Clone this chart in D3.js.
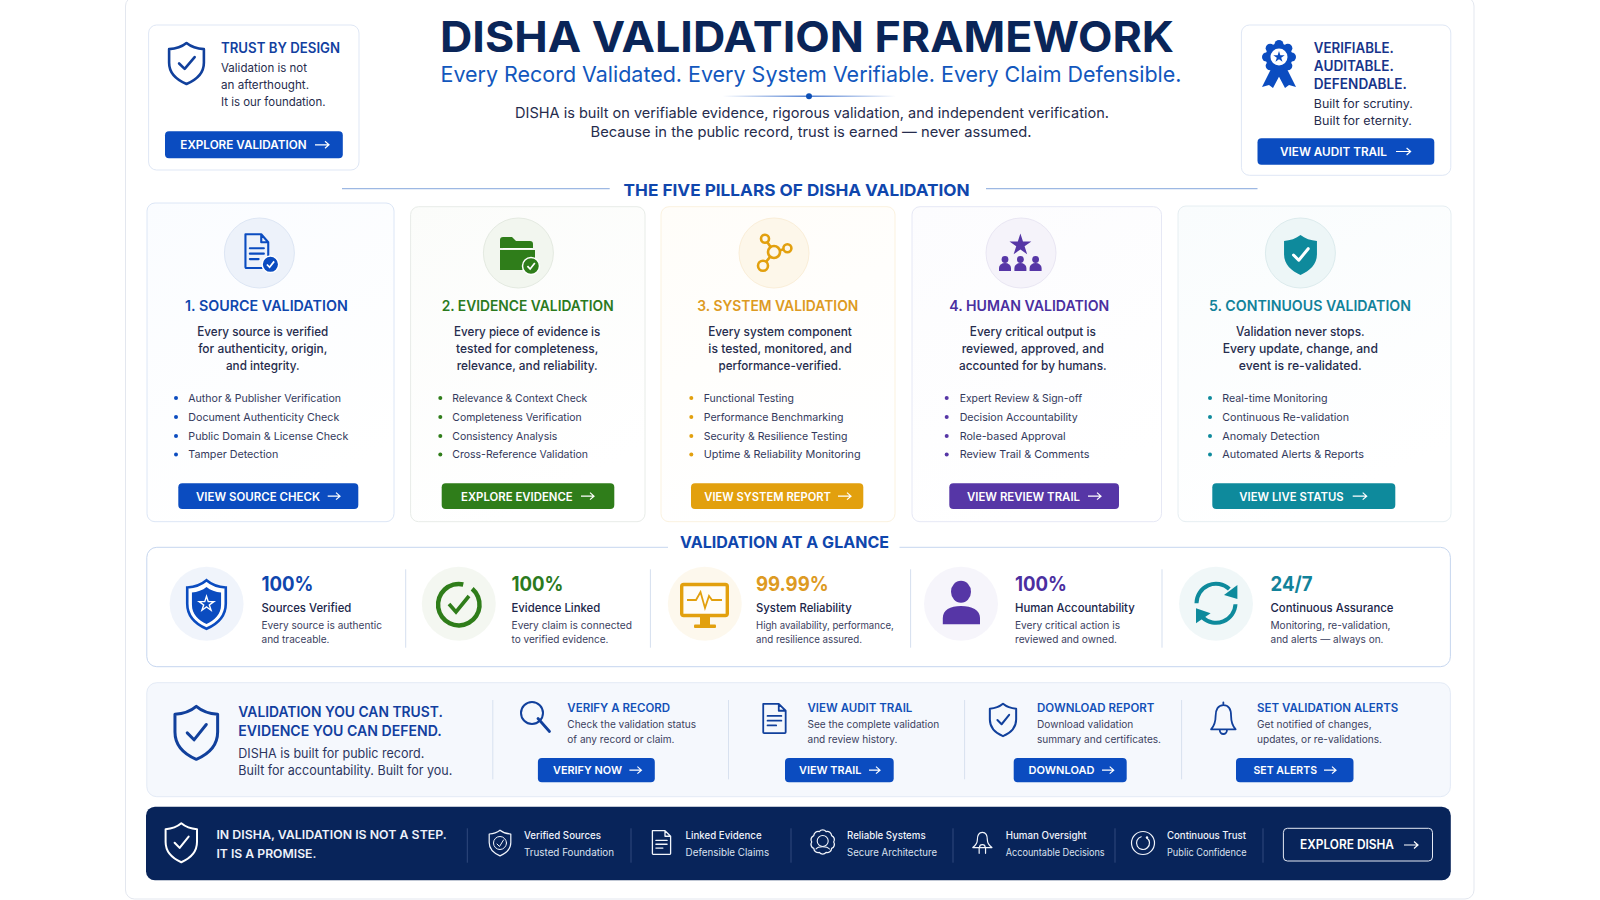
<!DOCTYPE html>
<html>
<head>
<meta charset="utf-8">
<script src="https://cdn.jsdelivr.net/npm/d3@7"></script>
<style>
  body { margin: 0; background: #fff; }
  svg { display: block; }
  text { font-family: Inter, "Noto Sans", sans-serif; }
</style>
</head>
<body>
<div id="chart"></div>
<script>
// text content
const pageTitle = "DISHA VALIDATION FRAMEWORK";
const pageSubtitle = "Every Record Validated. Every System Verifiable. Every Claim Defensible.";
const pageIntro = ["DISHA is built on verifiable evidence, rigorous validation, and independent verification.",
                   "Because in the public record, trust is earned — never assumed."];
const leftHead = "TRUST BY DESIGN";
const leftLines = ["Validation is not", "an afterthought.", "It is our foundation."];
const leftButton = "EXPLORE VALIDATION";
const rightHead = ["VERIFIABLE.", "AUDITABLE.", "DEFENDABLE."];
const rightLines = ["Built for scrutiny.", "Built for eternity."];
const rightButton = "VIEW AUDIT TRAIL";
const pillarsHeading = "THE FIVE PILLARS OF DISHA VALIDATION";
const glanceHeading = "VALIDATION AT A GLANCE";

const pillarTitles = ["1. SOURCE VALIDATION", "2. EVIDENCE VALIDATION", "3. SYSTEM VALIDATION", "4. HUMAN VALIDATION", "5. CONTINUOUS VALIDATION"];
const pillarIntro = [
  ["Every source is verified", "for authenticity, origin,", "and integrity."],
  ["Every piece of evidence is", "tested for completeness,", "relevance, and reliability."],
  ["Every system component", "is tested, monitored, and", "performance-verified."],
  ["Every critical output is", "reviewed, approved, and", "accounted for by humans."],
  ["Validation never stops.", "Every update, change, and", "event is re-validated."]
];
const pillarChecks = [
  ["Author & Publisher Verification", "Document Authenticity Check", "Public Domain & License Check", "Tamper Detection"],
  ["Relevance & Context Check", "Completeness Verification", "Consistency Analysis", "Cross-Reference Validation"],
  ["Functional Testing", "Performance Benchmarking", "Security & Resilience Testing", "Uptime & Reliability Monitoring"],
  ["Expert Review & Sign-off", "Decision Accountability", "Role-based Approval", "Review Trail & Comments"],
  ["Real-time Monitoring", "Continuous Re-validation", "Anomaly Detection", "Automated Alerts & Reports"]
];
const pillarButtons = ["VIEW SOURCE CHECK", "EXPLORE EVIDENCE", "VIEW SYSTEM REPORT", "VIEW REVIEW TRAIL", "VIEW LIVE STATUS"];

const glanceValues = ["100%", "100%", "99.99%", "100%", "24/7"];
const glanceLabels = ["Sources Verified", "Evidence Linked", "System Reliability", "Human Accountability", "Continuous Assurance"];
const glanceNotes = [
  ["Every source is authentic", "and traceable."],
  ["Every claim is connected", "to verified evidence."],
  ["High availability, performance,", "and resilience assured."],
  ["Every critical action is", "reviewed and owned."],
  ["Monitoring, re-validation,", "and alerts — always on."]
];

const trustHead = ["VALIDATION YOU CAN TRUST.", "EVIDENCE YOU CAN DEFEND."];
const trustLines = ["DISHA is built for public record.", "Built for accountability. Built for you."];
const actionTitles = ["VERIFY A RECORD", "VIEW AUDIT TRAIL", "DOWNLOAD REPORT", "SET VALIDATION ALERTS"];
const actionNotes = [
  ["Check the validation status", "of any record or claim."],
  ["See the complete validation", "and review history."],
  ["Download validation", "summary and certificates."],
  ["Get notified of changes,", "updates, or re-validations."]
];
const actionButtons = ["VERIFY NOW", "VIEW TRAIL", "DOWNLOAD", "SET ALERTS"];

const footerHead = ["IN DISHA, VALIDATION IS NOT A STEP.", "IT IS A PROMISE."];
const footerFirst = ["Verified Sources", "Linked Evidence", "Reliable Systems", "Human Oversight", "Continuous Trust"];
const footerSecond = ["Trusted Foundation", "Defensible Claims", "Secure Architecture", "Accountable Decisions", "Public Confidence"];
const footerButton = "EXPLORE DISHA";

// colours
const BLUE = "#0b4cc0", NAVY = "#0a2558", INK = "#262c4d", HEAD = "#123f9f";
const pillarColors = ["#0b4cc0", "#2f7d1a", "#e2a00e", "#5636a6", "#0e8a9c"];
const pillarHeads = ["#0f46ad", "#2b7a1e", "#dd9a22", "#4b2fa0", "#12829a"];
const pillarTints = ["#fafcff", "#fbfcfa", "#fffdf9", "#fcfcfe", "#f9fcfd"];
const pillarBorders = ["#dce6f6", "#e8ece8", "#fbf2df", "#e6e8f5", "#e6eef2"];
const circleFills = ["#edf2fa", "#f2f6ef", "#fdf7ea", "#f5f3fa", "#edf6f7"];
const circleEdges = ["#dde6f4", "#e4eae1", "#faeed8", "#e9e6f3", "#dcebed"];

// layout
const cardLeft = [147, 410.6, 661, 912, 1178];
const cardRight = [394, 645, 895, 1161.5, 1451];
const cardTop = [203, 206.7, 206.7, 206.7, 206];
const circleX = [259.4, 518.4, 774, 1021, 1300.4];
const titleX = [266.4, 527.7, 777.8, 1029.3, 1310];
const titleW = [162.7, 172, 161, 160, 202];
const introX = [262.8, 527.2, 780, 1032.8, 1300.3];
const introW = [[131, 129.3, 73.7], [146.3, 142.3, 141], [143.7, 143.3, 123], [126, 142.3, 147.7], [128.7, 155.3, 123]];
const dotX = [176, 440.3, 691.3, 946.7, 1210];
const checkX = [188.3, 452.3, 703.7, 959.7, 1222.3];
const checkW = [[152.7, 151, 160, 90], [135, 129.3, 105, 135.7], [90.3, 139.7, 143.7, 157], [122.3, 118, 106, 129.7], [105.3, 126.7, 97.3, 141.7]];
const btnLeft = [178.3, 441.7, 691, 949.3, 1212.3];
const btnRight = [358.3, 614.3, 863.3, 1119, 1395.3];
const btnTextLeft = [196, 461, 704.3, 967, 1239.3];
const btnTextRight = [320, 572.7, 831, 1080, 1343.7];
const arrowLeft = [327.7, 581, 838, 1088, 1352.7];
const arrowRight = [340, 594, 851, 1101, 1366.7];
const glanceCircleX = [206.6, 458.8, 704.8, 961, 1216];
const glanceTextX = [261.5, 511.5, 756, 1015, 1270.5];
const glanceNoteW = [[120.5, 68], [120.5, 97], [137.8, 106], [105, 102], [120, 113]];
const glanceDivX = [405.7, 650.4, 910.6, 1162];
const actionDivX = [492.8, 728.5, 964.6, 1181.6];
const actionTextX = [567.3, 807.5, 1037, 1257];
const actionBtnLeft = [537.9, 785, 1013.7, 1236];
const actionBtnRight = [654.8, 893.7, 1126.7, 1353.5];
const actionBtnText = [[553, 622], [799, 861.5], [1028.5, 1094.5], [1253.5, 1317]];
const actionArrow = [[629.4, 641.4], [869, 880], [1102, 1113.7], [1324, 1336]];
const footerDivX = [467.3, 631, 791, 953, 1115, 1263];
const footerTextX = [524, 685.6, 847, 1005.7, 1167];
const footerFirstW = [77, 76, 78.6, 81, 79];
const footerSecondW = [90, 83.5, 90, 99, 79.5];

const SHIELD = "M50 3C62 13 80 19 97 20V58C97 87 76 106 50 117C24 106 3 87 3 58V20C20 19 38 13 50 3Z";
const CHECK = "M30 60L45 75L72 42";
const DOC = "M4 2H40L56 18V68a2 2 0 0 1-2 2H6a2 2 0 0 1-2-2Z M40 2V18H56 M14 30H46 M14 41H46 M14 52H34";
const BELL = "M30 6C18 6 13 15 13 27C13 40 9 47 3 53H57C51 47 47 40 47 27C47 15 42 6 30 6Z M30 1V6 M22 54a8 8 0 0 0 16 0";
const DOME = "M30 2C20 2 16 10 16 22C16 32 12 38 3 44H57C48 38 44 32 44 22C44 10 40 2 30 2Z M21 44V60 M39 44V60 M22 44a8 8 0 0 1 16 0";

const svg = d3.select("#chart").append("svg").attr("width", 1600).attr("height", 900);
const defs = svg.append("defs");
pillarTints.forEach((c, i) => {
  const grad = defs.append("linearGradient").attr("id", "tint" + i).attr("x1", 0).attr("y1", 0).attr("x2", 0.4).attr("y2", 1);
  grad.append("stop").attr("offset", 0).attr("stop-color", c);
  grad.append("stop").attr("offset", 1).attr("stop-color", "#fff");
});
const fade = defs.append("linearGradient").attr("id", "fade");
fade.append("stop").attr("offset", 0).attr("stop-color", BLUE).attr("stop-opacity", 0);
fade.append("stop").attr("offset", 0.5).attr("stop-color", BLUE).attr("stop-opacity", 0.7);
fade.append("stop").attr("offset", 1).attr("stop-color", BLUE).attr("stop-opacity", 0);

// draws a text, squeezed to a given width (Inter runs wider than the original face)
function txt(g, str, x, y, size, weight, fill, o) {
  o = o || {};
  const t = g.append("text").text(str).attr("x", x).attr("y", y)
    .attr("font-size", size).attr("font-weight", weight).attr("fill", fill)
    .attr("text-anchor", o.anchor || "start");
  const w = o.w || t.node().getComputedTextLength() * (o.sq || 0.93);
  t.attr("textLength", w).attr("lengthAdjust", "spacingAndGlyphs");
  return t;
}

function box(g, x0, y0, x1, y1, r, fill, stroke) {
  return g.append("rect").attr("x", x0).attr("y", y0).attr("width", x1 - x0).attr("height", y1 - y0)
    .attr("rx", r).attr("fill", fill).attr("stroke", stroke || "none");
}

function vline(g, x, y0, y1, col) {
  g.append("line").attr("x1", x).attr("x2", x).attr("y1", y0).attr("y2", y1).attr("stroke", col).attr("stroke-width", 1);
}

function hline(g, x0, x1, y, col, w) {
  g.append("line").attr("x1", x0).attr("x2", x1).attr("y1", y).attr("y2", y).attr("stroke", col).attr("stroke-width", w || 1);
}

function arrow(g, x0, x1, y, col) {
  g.append("path").attr("d", `M${x0} ${y}H${x1}M${x1 - 4} ${y - 3.5}L${x1} ${y}L${x1 - 4} ${y + 3.5}`)
    .attr("fill", "none").attr("stroke", col).attr("stroke-width", 1.2);
}

function button(g, label, xs, ys, ts, as, col, size) {
  box(g, xs[0], ys[0], xs[1], ys[1], 4, col);
  txt(g, label, ts[0], (ys[0] + ys[1]) / 2 + (size ? 4 : 4.6), size || 11.5, 600, "#fff", { w: ts[1] - ts[0] });
  arrow(g, as[0], as[1], (ys[0] + ys[1]) / 2, "#fff");
}

// a unit-space path scaled into a pixel box, keeping stroke width in px
function put(g, d, x0, y0, x1, y1, ux, uy) {
  return g.append("path").attr("d", d)
    .attr("transform", `translate(${x0},${y0}) scale(${(x1 - x0) / ux},${(y1 - y0) / uy})`)
    .attr("vector-effect", "non-scaling-stroke");
}

function outline(p, col, w) {
  return p.attr("fill", "none").attr("stroke", col).attr("stroke-width", w)
    .attr("stroke-linejoin", "round").attr("stroke-linecap", "round").style("vector-effect", "non-scaling-stroke");
}

function star(g, x, y, r, fill) {
  g.append("path").attr("d", d3.symbol(d3.symbolStar, r * r / 0.89)()).attr("transform", `translate(${x},${y})`).attr("fill", fill);
}

function badgeCheck(g, x, y, r, col) {
  g.append("circle").attr("cx", x).attr("cy", y).attr("r", r).attr("fill", col).attr("stroke", "#fff").attr("stroke-width", 1.5);
  g.append("path").attr("d", `M${x - r * 0.42} ${y + r * 0.02}L${x - r * 0.1} ${y + r * 0.36}L${x + r * 0.45} ${y - r * 0.35}`)
    .attr("fill", "none").attr("stroke", "#fff").attr("stroke-width", 1.7);
}

// outer sheet
box(svg, 125.5, -3, 1474, 899, 9, "#fff", "#e3e7ef");

// ---- header ----
const head = svg.append("g");
txt(head, pageTitle, 440, 51.7, 42.5, 700, NAVY, { w: 734 });
txt(head, pageSubtitle, 440.5, 82, 22, 400, "#1257bd", { w: 741 });
box(head, 722.7, 95.6, 896, 97, 0.7, "url(#fade)");
head.append("circle").attr("cx", 809).attr("cy", 96.3).attr("r", 3).attr("fill", "#0d4fb5");
txt(head, pageIntro[0], 812, 118.3, 14.5, 400, INK, { anchor: "middle", w: 594 });
txt(head, pageIntro[1], 811, 137.3, 14.5, 400, INK, { anchor: "middle", w: 441 });

// left note
const left = svg.append("g");
box(left, 148.6, 25, 359, 170, 8, "#fff", "#dfe7f5");
outline(put(left, SHIELD, 168, 42, 205, 85, 100, 120), "#11409c", 2.6);
outline(put(left, CHECK, 168, 42, 205, 85, 100, 120), "#11409c", 2.6);
txt(left, leftHead, 221, 52.6, 14, 600, HEAD, { w: 119 });
leftLines.forEach((d, i) => txt(left, d, 221, [71.6, 88.8, 106][i], 11.5, 400, INK, { w: [86, 88, 104.5][i] }));
button(left, leftButton, [165, 342.8], [131.3, 158.3], [180.3, 306.6], [315, 329], BLUE);

// right note
const right = svg.append("g");
box(right, 1241.4, 25, 1450.8, 175.3, 8, "#fff", "#dfe7f5");
const ribbon = right.append("g").attr("transform", "translate(1279,57)");
[-1, 1].forEach(s => ribbon.append("path").attr("d", "M-7 10L-17 30L-10 28L-6 31L3 14Z")
  .attr("transform", `scale(${s},1)`).attr("fill", BLUE));
ribbon.append("circle").attr("r", 13.5).attr("fill", BLUE);
d3.range(8).forEach(i => ribbon.append("circle").attr("r", 4.5).attr("fill", BLUE)
  .attr("cx", 12.5 * Math.cos(i * Math.PI / 4)).attr("cy", 12.5 * Math.sin(i * Math.PI / 4)));
ribbon.append("circle").attr("r", 8.5).attr("fill", "#fff");
star(ribbon, 0, 0, 6, BLUE);
rightHead.forEach((d, i) => txt(right, d, 1313.8, [52.6, 70.6, 88.8][i], 14, 600, "#17348a", { w: [80, 80, 93][i] }));
rightLines.forEach((d, i) => txt(right, d, 1313.8, [108.3, 125.3][i], 11.5, 400, INK, { w: [99, 98][i] }));
button(right, rightButton, [1257.5, 1434.3], [138.3, 164.7], [1280, 1387], [1396, 1410.6], BLUE);

// section heading
txt(svg, pillarsHeading, 623.6, 196, 16.5, 700, "#0f46ad", { w: 346 });
hline(svg, 342, 609.7, 188.7, "#9db8e3", 1.2);
hline(svg, 986, 1257.5, 188.7, "#9db8e3", 1.2);

// ---- pillar cards ----
const color = d3.scaleOrdinal(pillarTitles, pillarColors);
const cards = svg.append("g").selectAll("g").data(pillarTitles).enter().append("g");
cards.each(function (title, i) {
  const g = d3.select(this);
  box(g, cardLeft[i], cardTop[i], cardRight[i], 521.7, 8, `url(#tint${i})`, pillarBorders[i]);
  g.append("circle").attr("cx", circleX[i]).attr("cy", 253).attr("r", 35)
    .attr("fill", circleFills[i]).attr("stroke", circleEdges[i]);
  txt(g, title, titleX[i], 310.7, 14.5, 600, pillarHeads[i], { anchor: "middle", w: titleW[i] });
  pillarIntro[i].forEach((line, k) => {
    txt(g, line, introX[i], 335.7 + k * 17, 12.5, 500, INK, { anchor: "middle", w: introW[i][k] });
  });
  pillarChecks[i].forEach((line, k) => {
    const y = [401.7, 420.7, 439.7, 458.2][k];
    g.append("circle").attr("cx", dotX[i]).attr("cy", y - 3.8).attr("r", 2).attr("fill", color(title));
    txt(g, line, checkX[i], y, 10.8, 400, "#33395c", { w: checkW[i][k] });
  });
  button(g, pillarButtons[i], [btnLeft[i], btnRight[i]], [483.3, 509],
    [btnTextLeft[i], btnTextRight[i]], [arrowLeft[i], arrowRight[i]], color(title));
});

// pillar icons
const ic = svg.append("g");
outline(put(ic, DOC, 243.7, 233.3, 270, 269, 60, 72), pillarColors[0], 2.1);
badgeCheck(ic, 270.4, 264.3, 8.3, pillarColors[0]);

ic.append("path").attr("d", "M500 240a3 3 0 0 1 3-3h9l4 4h14a3 3 0 0 1 3 3v4h-33z M500 270V250h35v20z").attr("fill", pillarColors[1]);
hline(ic, 503, 532, 248.5, "#fff", 1);
badgeCheck(ic, 531, 266, 8.5, pillarColors[1]);

const net = ic.append("g").attr("fill", "none").attr("stroke", "#e2a00e").attr("stroke-width", 2.6);
net.append("path").attr("d", "M765 238.7L774 252M787.4 248.3L774 252M763 265.7L774 252");
[[774, 252, 6], [765, 238.7, 4], [787.4, 248.3, 4], [763, 265.7, 5]].forEach(n =>
  net.append("circle").attr("cx", n[0]).attr("cy", n[1]).attr("r", n[2]).attr("fill", "#fdf7ea"));

star(ic, 1020.4, 245, 11.5, pillarColors[3]);
[1005, 1020.4, 1035.6].forEach(x => {
  ic.append("circle").attr("cx", x).attr("cy", 259.5).attr("r", 3.4).attr("fill", pillarColors[3]);
  ic.append("path").attr("d", `M${x - 6} 271v-3a6 5 0 0 1 12 0v3z`).attr("fill", pillarColors[3]);
});

put(ic, SHIELD, 1283, 234, 1318, 276, 100, 120).attr("fill", pillarColors[4]);
outline(put(ic, CHECK, 1283, 234, 1318, 276, 100, 120), "#fff", 3);

// ---- at a glance ----
const glance = svg.append("g");
box(glance, 146.8, 547.3, 1450.4, 666.7, 10, "#fff", "#c6d6ef");
box(glance, 668, 544, 899.5, 551, 0, "#fff");
txt(glance, glanceHeading, 680, 548.3, 16, 700, "#0f46ad", { w: 209 });
glanceDivX.forEach(x => vline(glance, x, 569.3, 647.7, "#d5dfef"));
glanceValues.forEach((v, i) => {
  glance.append("circle").attr("cx", glanceCircleX[i]).attr("cy", 603.7).attr("r", 37)
    .attr("fill", circleFills[i]).attr("fill-opacity", 0.85);
  txt(glance, v, glanceTextX[i], 590.7, 20, 700, pillarHeads[i], {});
  txt(glance, glanceLabels[i], glanceTextX[i], 612, 12, 500, "#20264a", { sq: 0.945 });
  glanceNotes[i].forEach((n, k) => txt(glance, n, glanceTextX[i], [629.2, 643.2][k], 10.5, 400, "#3a4060", { w: glanceNoteW[i][k] }));
});

// glance icons
put(glance, SHIELD, 186, 579, 227, 630, 100, 120).attr("fill", "#fff").attr("stroke", BLUE).attr("stroke-width", 2.6);
put(glance, SHIELD, 191, 586, 222, 625, 100, 120).attr("fill", BLUE);
star(glance, 206.5, 604, 10, "#fff");
star(glance, 206.5, 604, 5.5, BLUE);

const ring = d3.arc().innerRadius(18.5).outerRadius(23);
glance.append("path").attr("transform", "translate(458.8,604.7)").attr("fill", "#2f7d1a")
  .attr("d", ring({ startAngle: 0.7, endAngle: 6.5 }));
glance.append("path").attr("d", "M449 604L456 612L469 596").attr("fill", "none").attr("stroke", "#2f7d1a").attr("stroke-width", 3.6);

box(glance, 681.7, 584.5, 727.3, 615.5, 2, "#fffdf8", "#e2a00e").attr("stroke-width", 3.4);
glance.append("path").attr("d", "M687 600H696L700.5 592L705 608L709 596L712 600H722").attr("fill", "none").attr("stroke", "#e2a00e").attr("stroke-width", 1.8);
box(glance, 700, 617, 710, 625, 0, "#e2a00e");
box(glance, 694, 624.5, 716, 628, 1, "#e2a00e");

glance.append("ellipse").attr("cx", 961).attr("cy", 591.7).attr("rx", 10).attr("ry", 11).attr("fill", "#5636a6");
glance.append("path").attr("d", "M942.8 624.3V618C942.8 610 950 606 961 606C972 606 980 610 980 618V624.3Z").attr("fill", "#5636a6");

const sync = d3.arc().innerRadius(17.5).outerRadius(21.5);
const syncG = glance.append("g").attr("transform", "translate(1216,603.3)").attr("fill", "#0e8a9c");
syncG.append("path").attr("d", sync({ startAngle: -1.57, endAngle: 0.75 }));
syncG.append("path").attr("d", sync({ startAngle: 1.62, endAngle: 3.9 }));
syncG.append("path").attr("d", "M21.4 -18.3L21.4 -4.3L8 -8.3Z");
syncG.append("path").attr("d", "M-20 20L-20 5L-5.4 10Z");

// ---- actions ----
const act = svg.append("g");
box(act, 146.8, 682.7, 1450.4, 796.7, 10, "#f5f8fd", "#e3eaf6");
outline(put(act, SHIELD, 173.6, 705, 219, 760.7, 100, 120), "#11409c", 3);
outline(put(act, CHECK, 173.6, 705, 219, 760.7, 100, 120), "#11409c", 3);
trustHead.forEach((d, i) => txt(act, d, 238.3, [717.3, 735.7][i], 14.5, 600, HEAD, { w: [204.5, 203.5][i] }));
trustLines.forEach((d, i) => txt(act, d, 238.3, [757.7, 775.3][i], 13, 400, "#2c3560", { w: [186, 214][i] }));
actionDivX.forEach(x => vline(act, x, 700, 779.3, "#d8e1ef"));
actionTitles.forEach((t, i) => {
  txt(act, t, actionTextX[i], 711.7, 11.5, 600, "#1250b8", { sq: 1 });
  actionNotes[i].forEach((n, k) => txt(act, n, actionTextX[i], [728.3, 742.7][k], 10.5, 400, "#3a4060", { sq: 0.96 }));
  button(act, actionButtons[i], [actionBtnLeft[i], actionBtnRight[i]], [758, 782.3], actionBtnText[i], actionArrow[i], BLUE, 11);
});
outline(act.append("path").attr("d", "M549.5 731.5L538 718.5"), "#11409c", 2.8);
outline(act.append("circle").attr("cx", 532).attr("cy", 713).attr("r", 11), "#11409c", 2);
outline(put(act, DOC, 761.5, 703, 787.4, 734, 60, 72), "#11409c", 1.8);
outline(put(act, SHIELD, 989, 703, 1017, 737, 100, 120), "#11409c", 2);
outline(put(act, CHECK, 989, 703, 1017, 737, 100, 120), "#11409c", 2);
outline(put(act, BELL, 1209.7, 702, 1237, 734, 60, 62), "#11409c", 1.8);

// ---- footer ----
const foot = svg.append("g");
box(foot, 146, 806.7, 1450.8, 880.3, 9, "#08245a");
outline(put(foot, SHIELD, 164.6, 822.3, 198, 863.3, 100, 120), "#fff", 2);
outline(put(foot, CHECK, 164.6, 822.3, 198, 863.3, 100, 120), "#fff", 2);
footerHead.forEach((d, i) => txt(foot, d, 216.4, [838.9, 857.9][i], 12, 600, "#eef2fa", { w: [230.4, 100][i] }));
footerDivX.forEach(x => vline(foot, x, 828.3, 862.7, "#30497c"));
footerFirst.forEach((d, i) => {
  txt(foot, d, footerTextX[i], 838.9, 10, 500, "#f0f3fa", { w: footerFirstW[i] });
  txt(foot, footerSecond[i], footerTextX[i], 855.9, 10, 400, "#dbe2f0", { w: footerSecondW[i] });
});
const W = "#f2f5fb";
outline(put(foot, SHIELD, 488.5, 829.5, 511.5, 856.5, 100, 120), W, 1.2);
outline(foot.append("circle").attr("cx", 500).attr("cy", 843).attr("r", 6.5), W, 1);
outline(foot.append("path").attr("d", "M497 844L499.5 846.5L503.5 840"), W, 1);
outline(put(foot, DOC, 651, 830, 672, 855, 60, 72), W, 1.3);
// scalloped ring for the reliable systems mark
const scallop = d3.range(10).map(i => {
  const a = i * Math.PI / 5, b = (i + 1) * Math.PI / 5, R = 11;
  return (i ? "" : `M${R * Math.cos(a)} ${R * Math.sin(a)}`) + `A4.4 4.4 0 0 1 ${R * Math.cos(b)} ${R * Math.sin(b)}`;
}).join("") + "Z";
outline(foot.append("path").attr("d", scallop).attr("transform", "translate(822.7,842)"), W, 1.3);
outline(foot.append("circle").attr("cx", 822.7).attr("cy", 841).attr("r", 5.5), W, 1.1);
outline(foot.append("path").attr("d", "M816 849C818 846 827 846 829.5 849"), W, 1.1);
outline(put(foot, DOME, 971.7, 831.7, 993, 854, 60, 62), W, 1.2);
outline(foot.append("circle").attr("cx", 1143).attr("cy", 843).attr("r", 11.5), W, 1.2);
outline(foot.append("path").attr("d", d3.arc().innerRadius(6.5).outerRadius(6.5)({ startAngle: 0.6, endAngle: 6 })).attr("transform", "translate(1143,843)"), W, 1.2);
foot.append("circle").attr("cx", 1147).attr("cy", 837.5).attr("r", 1.2).attr("fill", W);
box(foot, 1283.4, 828.3, 1432.5, 861, 4, "none", "#e4e9f3");
txt(foot, footerButton, 1300, 849.4, 12.5, 600, "#fff", { w: 94 });
arrow(foot, 1404, 1418, 845, "#fff");
</script>
</body>
</html>
